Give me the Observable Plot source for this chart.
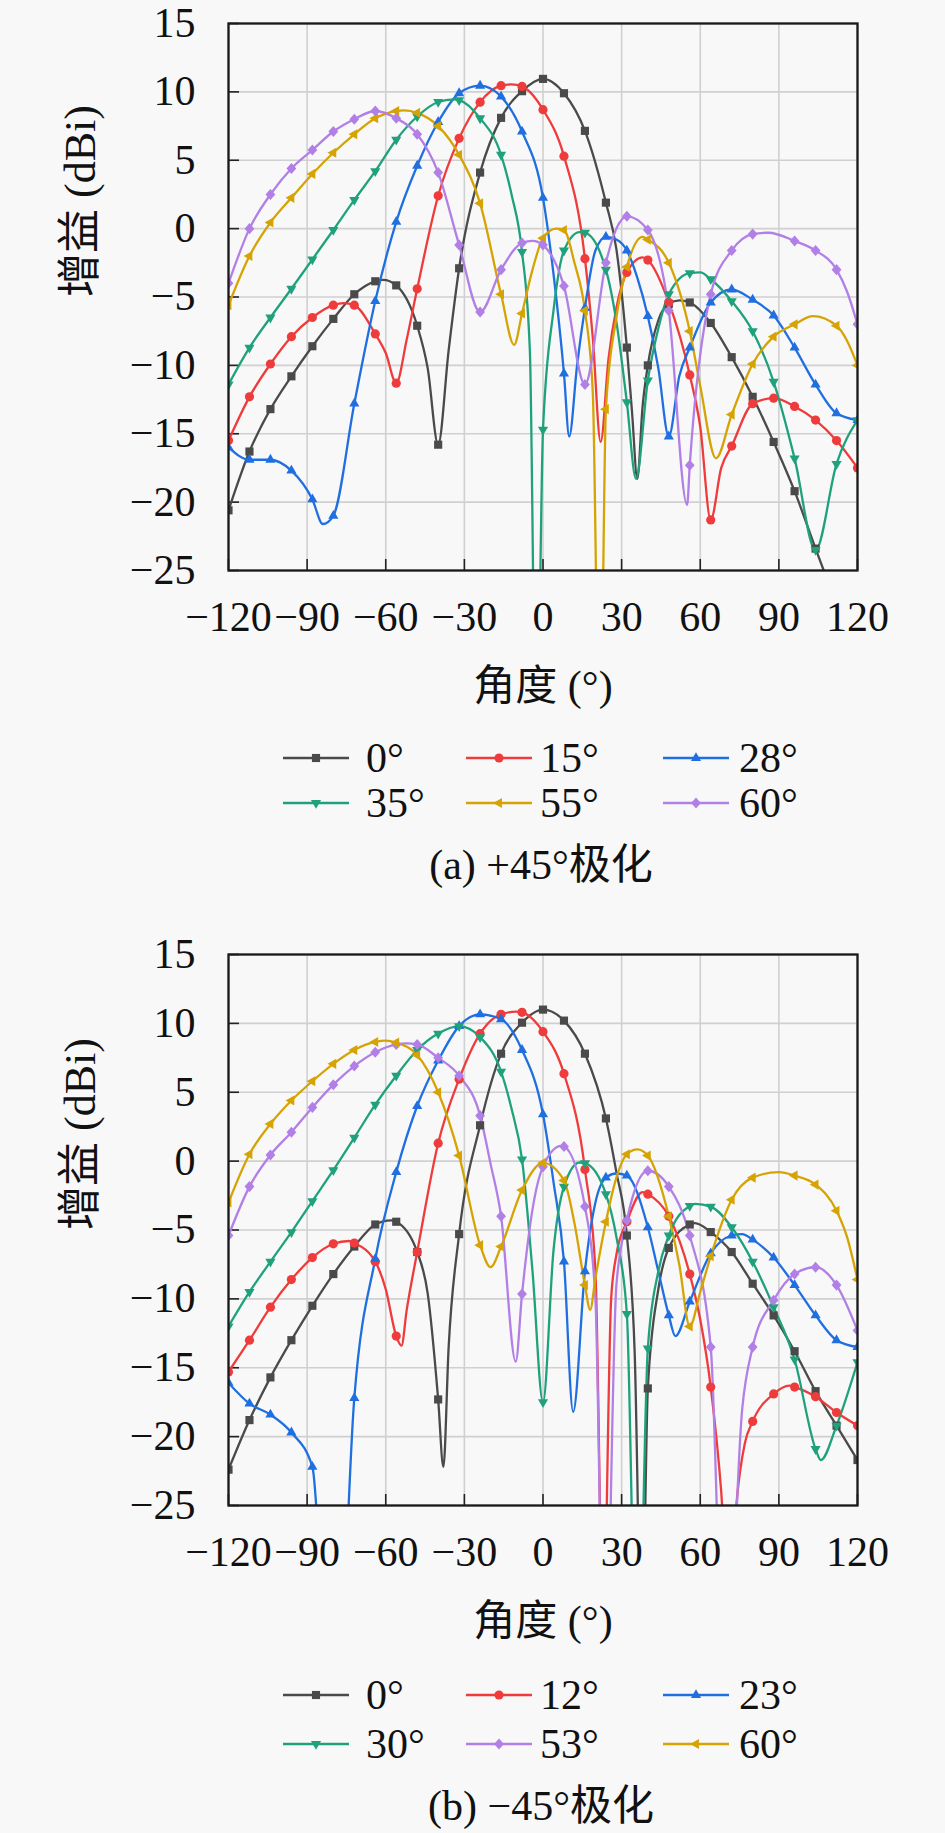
<!DOCTYPE html>
<html><head><meta charset="utf-8">
<script src="https://cdn.jsdelivr.net/npm/d3@7"></script>
<script src="https://cdn.jsdelivr.net/npm/@observablehq/plot@0.6"></script>
<style>
html,body{margin:0;padding:0;background:#f8f8f8;}
#wrap{position:relative;width:945px;height:1833px;overflow:hidden;}
.panel{position:absolute;left:0;}
#overlay{position:absolute;left:0;top:0;}
</style></head><body><div id="wrap"></div>
<script>
// ---------- data ----------
const xTicks = [-120,-90,-60,-30,0,30,60,90,120];
const yTicks = [15,10,5,0,-5,-10,-15,-20,-25];
const xLabel = "角度 (°)";
const yLabel = "增益 (dBi)";
const captionA = "(a) +45°极化";
const captionB = "(b) −45°极化";
const legendA = ["0°","15°","28°","35°","55°","60°"];
const legendB = ["0°","12°","23°","30°","53°","60°"];

// panel (a) +45°
const a0 = [[-120,-20.6],[-112,-16.3],[-104,-13.2],[-96,-10.8],[-88,-8.6],[-80,-6.6],[-72,-4.8],[-64,-3.85],[-61,-3.75],[-56,-4.15],[-48,-7.1],[-44,-10.2],[-40,-15.8],[-36,-8.9],[-32,-2.9],[-24,4.1],[-16,8.1],[-8,10.05],[0,10.95],[8,9.9],[16,7.15],[24,1.9],[28,-1.5],[32,-8.7],[34,-13.5],[36,-18.3],[38,-13],[40,-10],[44,-6.7],[48,-5.5],[52,-5.25],[56,-5.4],[64,-6.9],[72,-9.4],[80,-12.3],[88,-15.6],[96,-19.2],[104,-23.4],[112,-27.5],[120,-31.5]];
const a15 = [[-120,-15.5],[-112,-12.3],[-104,-9.9],[-96,-7.9],[-88,-6.5],[-80,-5.6],[-76,-5.45],[-72,-5.6],[-64,-7.7],[-60,-9.1],[-56,-11.3],[-52,-8.1],[-48,-4.4],[-40,2.4],[-32,6.6],[-24,9.25],[-16,10.45],[-12,10.55],[-8,10.4],[0,8.7],[8,5.3],[16,-2.2],[19,-8],[22,-15.6],[25,-9.5],[28,-5.8],[32,-3.2],[38,-2.1],[40,-2.3],[48,-5.4],[56,-10.7],[60,-14.5],[64,-21.3],[68,-17.5],[72,-15.9],[80,-12.8],[88,-12.4],[96,-13.0],[104,-14.0],[112,-15.5],[120,-17.5]];
const a28 = [[-120,-16.0],[-112,-16.9],[-104,-16.9],[-96,-17.7],[-88,-19.8],[-84,-21.6],[-80,-21.0],[-72,-12.8],[-64,-5.3],[-56,0.5],[-48,4.6],[-40,7.8],[-32,9.9],[-24,10.45],[-16,9.65],[-8,7.1],[0,2.25],[4,-3.3],[8,-10.6],[10,-15.2],[13,-10],[16,-5.8],[20,-1.6],[24,-0.6],[28,-0.8],[32,-1.6],[36,-3.6],[40,-6.4],[44,-10.2],[48,-15.2],[52,-10.8],[56,-8.7],[64,-5.4],[72,-4.45],[80,-5.2],[88,-6.35],[96,-8.7],[104,-11.4],[112,-13.5],[120,-14.0]];
const a35 = [[-120,-11.4],[-112,-8.7],[-104,-6.5],[-96,-4.4],[-88,-2.25],[-80,-0.1],[-72,2.1],[-64,4.2],[-56,6.5],[-48,8.2],[-40,9.26],[-34,9.45],[-32,9.4],[-24,8.07],[-16,5.4],[-12,2.5],[-8,-1.7],[-5,-9],[-2.5,-40],[0,-14.7],[4,-6],[8,-1.6],[14,-0.25],[16,-0.3],[24,-3.0],[28,-6.8],[32,-12.7],[35.5,-18.3],[40,-11.1],[44,-7.3],[48,-4.8],[56,-3.25],[60,-3.2],[64,-3.7],[72,-5.3],[80,-7.5],[88,-11.2],[96,-16.8],[104,-23.5],[112,-17.2],[120,-14.0]];
const a55 = [[-120,-5.6],[-112,-2.0],[-104,0.45],[-96,2.25],[-88,4.0],[-80,5.55],[-72,6.9],[-64,8.07],[-56,8.6],[-53,8.65],[-48,8.47],[-40,7.5],[-32,5.4],[-24,1.85],[-16,-4.8],[-11,-8.5],[-8,-6.2],[-4,-3],[0,-0.7],[5,0.0],[8,-0.1],[12,-2.5],[16,-6.0],[19,-12],[21.7,-40],[24,-13.2],[28,-6.5],[32,-2.8],[38,-0.6],[40,-0.8],[48,-2.5],[56,-7.5],[60,-11.5],[66,-16.8],[72,-13.6],[80,-9.9],[88,-7.9],[96,-7.0],[103,-6.4],[112,-7.1],[116,-8.2],[120,-10.0]];
const a60 = [[-120,-4.0],[-112,0.0],[-104,2.5],[-96,4.4],[-88,5.75],[-80,7.1],[-72,8.0],[-64,8.6],[-56,8.07],[-48,6.9],[-40,4.1],[-32,-1.2],[-24,-6.1],[-16,-3.0],[-8,-1.05],[-4,-0.9],[0,-1.2],[8,-4.2],[16,-11.4],[24,-2.5],[28,0.0],[32,0.9],[40,-0.1],[48,-6.0],[55,-20.2],[56,-17.3],[64,-4.8],[72,-1.6],[80,-0.4],[86,-0.3],[96,-0.9],[104,-1.6],[112,-3.0],[116,-4.6],[120,-7.0]];

// panel (b) −45°
const b0 = [[-120,-22.4],[-112,-18.8],[-104,-15.7],[-96,-13.0],[-88,-10.5],[-80,-8.2],[-72,-6.2],[-64,-4.6],[-58,-4.3],[-56,-4.4],[-48,-6.6],[-44,-9.6],[-40,-17.3],[-38,-22.2],[-36,-13.5],[-32,-5.3],[-24,2.6],[-16,7.8],[-8,10.05],[0,11.0],[8,10.2],[16,7.8],[24,3.1],[28,-0.8],[32,-5.4],[35,-14],[37.7,-36],[40,-16.5],[44,-9.3],[48,-6.3],[56,-4.6],[58,-4.5],[64,-5.15],[72,-6.6],[80,-8.9],[88,-11.2],[96,-13.8],[104,-16.7],[112,-19.2],[120,-21.7]];
const b12 = [[-120,-15.3],[-112,-13.0],[-104,-10.6],[-96,-8.6],[-88,-7.0],[-80,-6.0],[-74,-5.8],[-72,-5.95],[-64,-7.3],[-60,-9.3],[-56,-12.7],[-54,-13.4],[-52,-10.8],[-48,-6.6],[-40,1.3],[-32,5.95],[-24,9.25],[-16,10.66],[-10,10.85],[-8,10.8],[0,9.4],[8,6.35],[16,-0.6],[20,-8],[23,-34],[26,-10],[28,-6.8],[32,-4.4],[38,-2.25],[40,-2.4],[48,-4.0],[56,-8.2],[60,-11.5],[64,-16.4],[68,-24],[71,-33],[74,-24.5],[77,-20.5],[80,-18.9],[88,-16.9],[94,-16.3],[96,-16.4],[104,-17.1],[112,-18.25],[120,-19.2]];
const b23 = [[-120,-16.1],[-112,-17.6],[-104,-18.4],[-96,-19.7],[-88,-22.2],[-80,-45],[-72,-17.2],[-64,-7.1],[-56,-0.8],[-48,4.0],[-40,7.3],[-32,9.8],[-24,10.66],[-16,10.3],[-8,8.07],[0,3.4],[4,-1.5],[8,-7.3],[11.5,-18.2],[16,-8],[20,-3],[24,-1.2],[28,-0.9],[32,-1.05],[40,-4.8],[44,-8],[48,-11.2],[50.5,-12.7],[56,-10.2],[64,-6.7],[72,-5.4],[76,-5.3],[80,-5.7],[88,-7.0],[96,-9.0],[104,-11.2],[112,-13.0],[120,-13.5]];
const b30 = [[-120,-12.0],[-112,-9.5],[-104,-7.3],[-96,-5.15],[-88,-2.9],[-80,-0.66],[-72,1.7],[-64,4.1],[-56,6.2],[-48,8.07],[-40,9.26],[-32,9.8],[-24,9.0],[-16,6.5],[-12,3.8],[-8,0.13],[-4,-8],[0,-17.5],[4,-6.5],[8,-1.85],[14,-0.1],[16,-0.15],[24,-2.4],[28,-5.5],[32,-11.1],[36,-40],[40,-13.6],[44,-8],[48,-5.4],[56,-3.25],[58,-3.1],[64,-3.3],[72,-4.8],[80,-7.3],[88,-10.6],[96,-14.4],[104,-20.9],[106,-21.7],[112,-19.2],[120,-14.6]];
const b53 = [[-120,-5.4],[-112,-1.85],[-104,0.45],[-96,2.1],[-88,3.9],[-80,5.55],[-72,6.9],[-64,7.9],[-56,8.47],[-52,8.55],[-48,8.47],[-40,7.5],[-32,6.2],[-24,3.3],[-20,-0.2],[-16,-4.0],[-10.4,-14.55],[-8,-9.65],[-4,-3.5],[0,-0.4],[7,1.1],[8,1.06],[16,-3.3],[20,-10],[23.5,-40],[28,-9],[32,-4.3],[40,-0.7],[48,-1.85],[56,-5.4],[64,-13.5],[69.5,-40],[76,-18],[80,-13.5],[88,-10.1],[96,-8.2],[104,-7.7],[112,-9.0],[120,-12.3]];
const b60 = [[-120,-3.0],[-112,0.5],[-104,2.7],[-96,4.4],[-88,5.8],[-80,7.06],[-72,8.07],[-64,8.65],[-60,8.75],[-56,8.6],[-48,7.7],[-40,5.0],[-32,0.4],[-24,-6.1],[-20,-7.7],[-16,-6.2],[-8,-2.1],[0,-0.13],[8,-1.4],[12,-4.5],[16,-9.0],[18,-10.8],[20,-8.5],[24,-4.4],[28,-1.2],[32,0.5],[36,0.85],[40,0.4],[48,-4.0],[52,-7.5],[56,-12.0],[60,-9.5],[64,-6.9],[72,-2.8],[80,-1.2],[90,-0.8],[96,-1.05],[104,-1.7],[112,-3.6],[116,-5.5],[120,-8.6]];

// ---------- styles ----------
const FONT = '"Liberation Serif", "Noto Sans CJK SC", serif';
const FS = 42;
const C = {black:"#4a4a4a", red:"#ef3b3b", blue:"#1f6fe0", green:"#1fa27c", gold:"#d6a304", purple:"#b17fe6"};

function triangle(dir) {
  return {draw(ctx, size) {
    const R = Math.sqrt(size) * 0.72;
    const pts = [[0,-R],[R*0.866,R/2],[-R*0.866,R/2]].map(([x,y]) => {
      if (dir === "down") return [x,-y];
      if (dir === "left") return [y,x];
      return [x,y];
    });
    ctx.moveTo(pts[0][0], pts[0][1]); ctx.lineTo(pts[1][0], pts[1][1]); ctx.lineTo(pts[2][0], pts[2][1]); ctx.closePath();
  }};
}
const diamond = {draw(ctx, size) {
  const w = Math.sqrt(size) * 0.6, h = Math.sqrt(size) * 0.68;
  ctx.moveTo(0,-h); ctx.lineTo(w,0); ctx.lineTo(0,h); ctx.lineTo(-w,0); ctx.closePath();
}};
const symSquare = d3.symbolSquare, symCircle = d3.symbolCircle;
const triUp = triangle("up"), triDown = triangle("down"), triLeft = triangle("left");

const seriesA = [
  {data:a0, color:C.black, symbol:symSquare},
  {data:a15, color:C.red, symbol:symCircle},
  {data:a28, color:C.blue, symbol:triUp},
  {data:a35, color:C.green, symbol:triDown},
  {data:a55, color:C.gold, symbol:triLeft},
  {data:a60, color:C.purple, symbol:diamond}
];
const seriesB = [
  {data:b0, color:C.black, symbol:symSquare},
  {data:b12, color:C.red, symbol:symCircle},
  {data:b23, color:C.blue, symbol:triUp},
  {data:b30, color:C.green, symbol:triDown},
  {data:b53, color:C.purple, symbol:diamond},
  {data:b60, color:C.gold, symbol:triLeft}
];

function makePanel(series, marginTop) {
  const plotH = 570 - marginTop;
  const marks = [
    Plot.gridX(xTicks, {stroke:"#d0d0d0", strokeOpacity:1, strokeWidth:1.6}),
    Plot.gridY(yTicks, {stroke:"#d0d0d0", strokeOpacity:1, strokeWidth:1.6}),
    Plot.tickX(xTicks, {x: d => d, insetTop: plotH - 11, stroke:"#222", strokeWidth:1.6}),
    Plot.tickY(yTicks, {y: d => d, insetRight: 618, stroke:"#222", strokeWidth:1.6})
  ];
  for (const s of series) {
    marks.push(Plot.line(s.data, {x: d => d[0], y: d => d[1], stroke: s.color, strokeWidth: 2.3, curve: "monotone-x", clip: true}));
  }
  for (const s of series) {
    marks.push(Plot.dot(s.data.filter(d => d[0] % 8 === 0), {x: d => d[0], y: d => d[1], symbol: s.symbol, r: 4.6, fill: s.color, stroke: "none", clip: true}));
  }
  marks.push(Plot.frame({stroke:"#1a1a1a", strokeWidth:2.3}));
  marks.push(Plot.axisX(xTicks, {tickSize:0, tickPadding:31, fontSize:FS, label:null}));
  marks.push(Plot.axisY(yTicks, {tickSize:0, tickPadding:33, fontSize:FS, label:null}));
  marks.push(Plot.text([xLabel], {text: d => d, frameAnchor:"bottom", dy:116, fontSize:FS, lineAnchor:"middle", fill:"#111"}));
  marks.push(Plot.text([yLabel], {text: d => d, frameAnchor:"left", dx:-148, rotate:-90, fontSize:44, lineAnchor:"middle", fill:"#111"}));
  return Plot.plot({
    width: 945, height: 710,
    marginTop, marginBottom: 140, marginLeft: 228, marginRight: 88,
    x: {domain: [-120, 120], label: null},
    y: {domain: [-25, 15], label: null},
    style: {background: "transparent", fontFamily: FONT, fontSize: FS + "px", color: "#111", overflow: "visible"},
    marks
  });
}

const wrap = document.getElementById("wrap");
[[seriesA, 0, 23], [seriesB, 935, 19]].forEach(([ser, top, mt]) => {
  const div = document.createElement("div");
  div.className = "panel";
  div.style.top = top + "px";
  div.appendChild(makePanel(ser, mt));
  wrap.appendChild(div);
});

// legends and captions
const ov = d3.create("svg").attr("id","overlay").attr("width",945).attr("height",1833)
  .style("font-family", FONT).style("font-size", FS + "px");
function drawLegend(labels, series, rowYs) {
  const lineX = [283, 466, 663];
  const textX = [366, 540, 739];
  labels.forEach((lab, i) => {
    const r = Math.floor(i / 3), c = i % 3, y = rowYs[r], s = series[i];
    ov.append("line").attr("x1", lineX[c]).attr("x2", lineX[c] + 66).attr("y1", y).attr("y2", y)
      .attr("stroke", s.color).attr("stroke-width", 2.3);
    ov.append("path").attr("d", d3.symbol().type(s.symbol).size(66)())
      .attr("transform", `translate(${lineX[c] + 33},${y})`).attr("fill", s.color);
    ov.append("text").attr("x", textX[c]).attr("y", y + 14).attr("fill", "#111").text(lab);
  });
}
drawLegend(legendA, seriesA, [758, 803]);
drawLegend(legendB, seriesB, [1695, 1744]);
ov.append("text").attr("x", 541).attr("y", 879).attr("text-anchor", "middle").attr("fill", "#111").text(captionA);
ov.append("text").attr("x", 541).attr("y", 1820).attr("text-anchor", "middle").attr("fill", "#111").text(captionB);
wrap.appendChild(ov.node());
</script></body></html>
